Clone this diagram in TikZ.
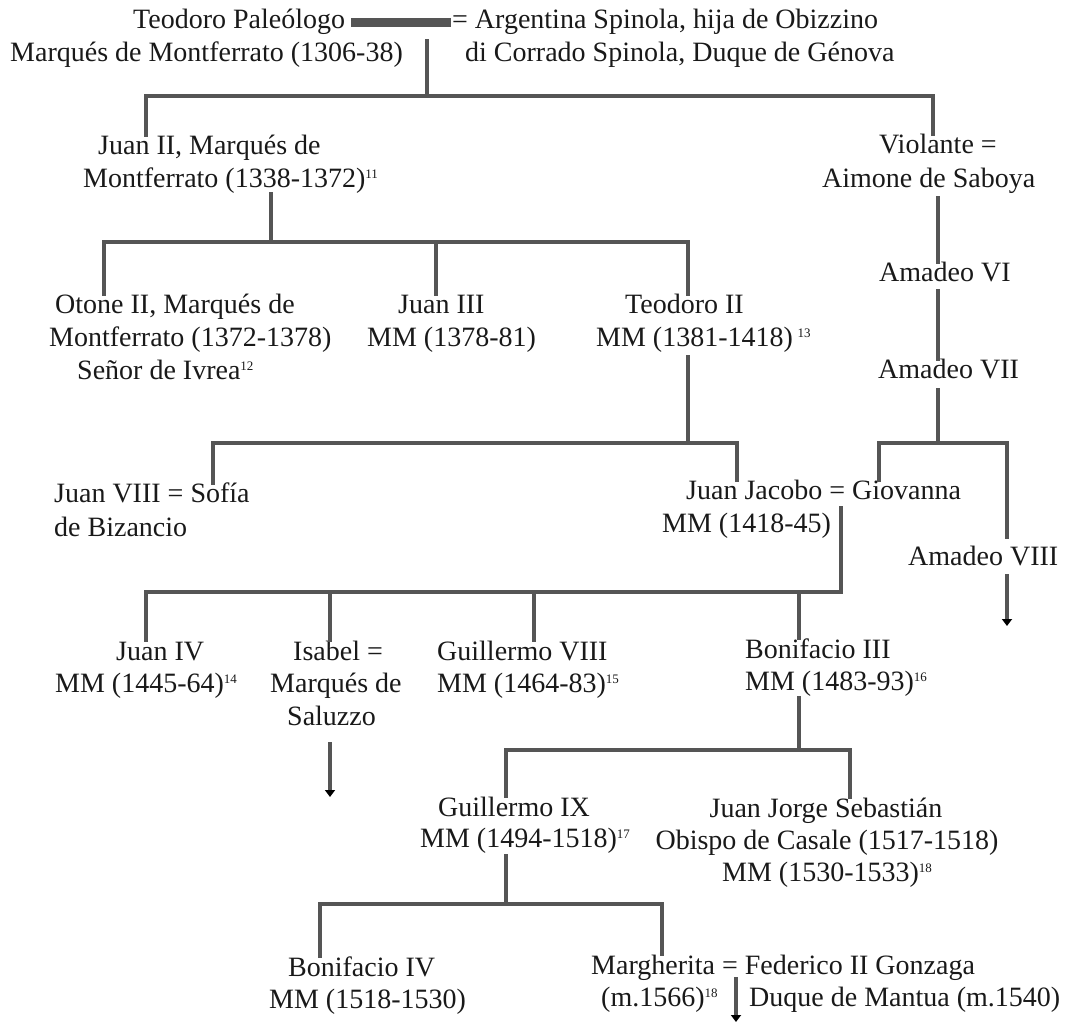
\documentclass[tikz,border=0pt]{standalone}
\usepackage{fontspec}
\setmainfont{Liberation Serif}
\usetikzlibrary{arrows.meta}
\definecolor{ln}{HTML}{555555}
\newcommand\sups[1]{\raisebox{9pt}{\fontsize{13}{13}\selectfont #1}}
\begin{document}
\begin{tikzpicture}[x=1pt,y=-1pt,
  lbl/.style={anchor=base west, inner sep=0pt, font=\fontsize{28}{33}\selectfont, text=black!90, text height=19pt, text depth=7pt},
  lblc/.style={lbl, anchor=base},
  conn/.style={draw=ln, line width=3.3pt, line cap=rect},
  arr/.style={draw=ln, line width=3.3pt, -{Triangle[length=7pt,width=10pt,color=black]}},
  bar/.style={draw=ln, line width=9pt}]
\useasboundingbox (0,0) rectangle (1072,1024);

% ---------- texts ----------
\node[lbl] (t1) at (133,29) {Teodoro Paleólogo};
\node[lbl] (t2) at (10,62) {Marqués de Montferrato (1306-38)};
\node[lbl] (a1) at (452,29) {= Argentina Spinola, hija de Obizzino};
\node[lbl] (a2) at (465,62) {di Corrado Spinola, Duque de Génova};

\node[lbl] (j2a) at (98,155) {Juan II, Marqués de};
\node[lbl] (j2b) at (83,188) {Montferrato (1338-1372)\sups{11}};

\node[lbl] (v1) at (879,154) {Violante =};
\node[lbl] (v2) at (822,188) {Aimone de Saboya};
\node[lbl] (a6) at (879,282) {Amadeo VI};
\node[lbl] (a7) at (878,379) {Amadeo VII};
\node[lbl] (a8) at (908,565) {Amadeo VIII};

\node[lbl] (o1) at (55,314) {Otone II, Marqués de};
\node[lbl] (o2) at (49,347) {Montferrato (1372-1378)};
\node[lbl] (o3) at (77,380) {Señor de Ivrea\sups{12}};

\node[lbl] (j3a) at (398,314) {Juan III};
\node[lbl] (j3b) at (367,347) {MM (1378-81)};

\node[lbl] (td1) at (625,314) {Teodoro II};
\node[lbl] (td2) at (596,347) {MM (1381-1418)\,\sups{13}};

\node[lbl] (jv1) at (54,503) {Juan VIII = Sofía};
\node[lbl] (jv2) at (54,536) {de Bizancio};

\node[lbl] (jj1) at (686,500) {Juan Jacobo = Giovanna};
\node[lbl] (jj2) at (662,532) {MM (1418-45)};

\node[lbl] (ji1) at (116,660) {Juan IV};
\node[lbl] (ji2) at (55,692) {MM (1445-64)\sups{14}};

\node[lbl] (is1) at (293,660) {Isabel =};
\node[lbl] (is2) at (270,692) {Marqués de};
\node[lbl] (is3) at (287,725) {Saluzzo};

\node[lbl] (g8a) at (437,660) {Guillermo VIII};
\node[lbl] (g8b) at (437,692) {MM (1464-83)\sups{15}};

\node[lbl] (b3a) at (745,658) {Bonifacio III};
\node[lbl] (b3b) at (745,690) {MM (1483-93)\sups{16}};

\node[lbl] (g9a) at (438,816) {Guillermo IX};
\node[lbl] (g9b) at (420,847) {MM (1494-1518)\sups{17}};

\node[lblc] (js1) at (826,817) {Juan Jorge Sebastián};
\node[lblc] (js2) at (827,849) {Obispo de Casale (1517-1518)};
\node[lbl] (js3) at (722,881) {MM (1530-1533)\sups{18}};

\node[lbl] (bi1) at (288,976) {Bonifacio IV};
\node[lbl] (bi2) at (269,1008) {MM (1518-1530)};

\node[lbl] (m1) at (591,974) {Margherita = Federico II Gonzaga};
\node[lbl] (m2) at (601,1006) {(m.1566)\sups{18}};
\node[lbl] (m3) at (749,1006) {Duque de Mantua (m.1540)};

% ---------- coordinates ----------
\coordinate (mL) at (351,23);
\coordinate (mR) at (451,23);
\coordinate (c0) at (427,41);
\coordinate (c0b) at (427,96);
\coordinate (b1L) at (146,96);
\coordinate (b1R) at (933,96);

\coordinate (j2o) at (271,194);
\coordinate (b2M0) at (271,242);
\coordinate (b2L) at (104,242);
\coordinate (b2M) at (436,242);
\coordinate (b2R) at (688,242);

\coordinate (v2o) at (938,198);
\coordinate (a6o) at (938,291);
\coordinate (a7o) at (938,390);
\coordinate (b4M) at (938,443);
\coordinate (b4L) at (879,443);
\coordinate (b4R) at (1007,443);
\coordinate (b4Re) at (1007,537);
\coordinate (a8o) at (1007,574);
\coordinate (a8e) at (1007,626);

\coordinate (td2o) at (688,357);
\coordinate (b3M) at (688,443);
\coordinate (b3L) at (213,443);
\coordinate (b3R) at (737,443);

\coordinate (jjo) at (841,508);
\coordinate (b5R) at (841,592);
\coordinate (b5L) at (146,592);
\coordinate (b5a) at (330,592);
\coordinate (b5b) at (534,592);
\coordinate (b5c) at (799,592);

\coordinate (iso) at (330,742);
\coordinate (ise) at (330,797);

\coordinate (b3o) at (799,698);
\coordinate (b6M) at (799,750);
\coordinate (b6L) at (506,750);
\coordinate (b6R) at (850,750);

\coordinate (g9o) at (506,856);
\coordinate (b7M) at (506,904);
\coordinate (b7L) at (320,904);
\coordinate (b7R) at (662,904);

\coordinate (mo) at (736,977);
\coordinate (me) at (736,1022);

% ---------- connectors ----------
\draw[bar] (mL) -- (mR);
\draw[conn] (c0) -- (c0b);
\draw[conn] (b1L |- j2a.north) -- (b1L) -- (b1R) -- (b1R |- v1.north);

\draw[conn] (j2o) -- (b2M0);
\draw[conn] (b2L |- o1.north) -- (b2L) -- (b2R) -- (b2R |- td1.north);
\draw[conn] (b2M) -- (b2M |- j3a.north);

\draw[conn] (v2o) -- (v2o |- a6.north);
\draw[conn] (a6o) -- (a6o |- a7.north);
\draw[conn] (a7o) -- (b4M);
\draw[conn] (b4L |- jj1.north) -- (b4L) -- (b4R) -- (b4Re);
\draw[arr] (a8o) -- (a8e);

\draw[conn] (td2o) -- (b3M);
\draw[conn] (b3L |- jv1.north) -- (b3L) -- (b3R) -- (b3R |- jj1.north);

\draw[conn] (jjo) -- (b5R);
\draw[conn] (b5L |- ji1.north) -- (b5L) -- (b5R);
\draw[conn] (b5a) -- (b5a |- is1.north);
\draw[conn] (b5b) -- (b5b |- g8a.north);
\draw[conn] (b5c) -- (b5c |- b3a.north);
\draw[arr] (iso) -- (ise);

\draw[conn] (b3o) -- (b6M);
\draw[conn] (b6L |- g9a.north) -- (b6L) -- (b6R) -- (b6R |- js1.north);

\draw[conn] (g9o) -- (b7M);
\draw[conn] (b7L |- bi1.north) -- (b7L) -- (b7R) -- (b7R |- m1.north);
\draw[arr] (mo) -- (me);
\end{tikzpicture}
\end{document}
